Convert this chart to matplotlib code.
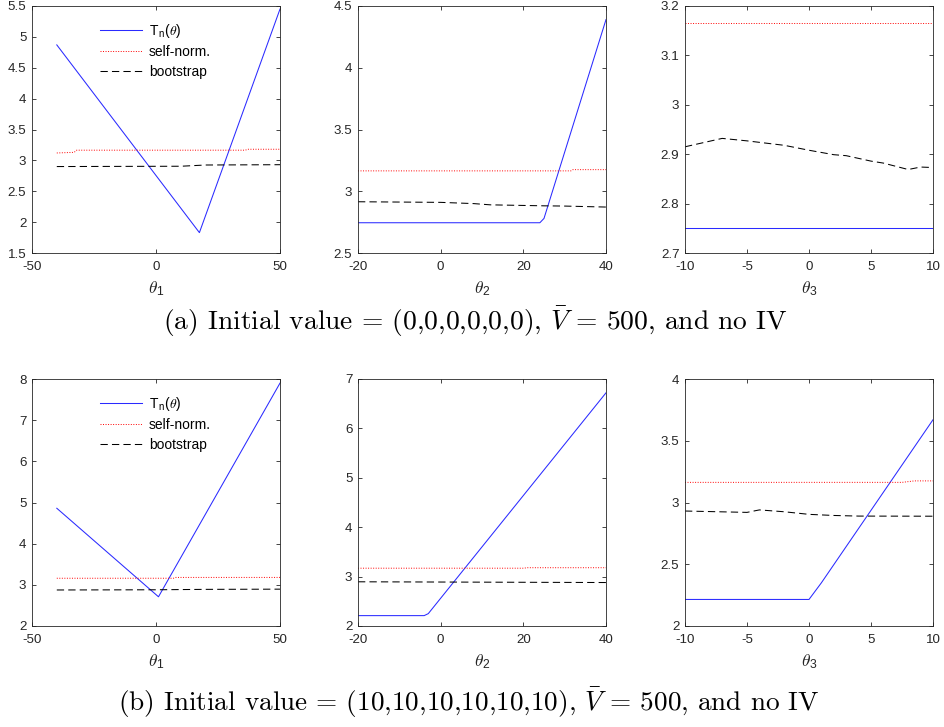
import matplotlib
matplotlib.use("Agg")
import matplotlib.pyplot as plt
from matplotlib.ticker import FuncFormatter, FixedLocator
from matplotlib.font_manager import FontProperties

plt.rcParams['font.family'] = ['Liberation Sans', 'DejaVu Sans']
plt.rcParams['axes.unicode_minus'] = False

# ---------------- data ----------------
# (a) initial value = 0
a1_x_tn = [-40, 17.5, 50]
a1_tn = [4.87, 1.83, 5.45]
a1_x_sn = [-40, -33, -32, 36, 37, 50]
a1_sn = [3.12, 3.13, 3.165, 3.165, 3.18, 3.18]
a1_x_bs = [-40, 10, 20, 50]
a1_bs = [2.90, 2.905, 2.925, 2.93]

a2_x_tn = [-20, 24, 25, 40]
a2_tn = [2.745, 2.745, 2.78, 4.39]
a2_x_sn = [-20, 31.5, 32, 40]
a2_sn = [3.165, 3.165, 3.175, 3.175]
a2_x_bs = [-20, 0, 8, 12, 25, 30, 40]
a2_bs = [2.915, 2.91, 2.90, 2.89, 2.882, 2.88, 2.872]

a3_x_tn = [-10, 10]
a3_tn = [2.75, 2.75]
a3_x_sn = [-10, 10]
a3_sn = [3.165, 3.165]
a3_x_bs = [-10, -7, -5, -2, 0, 2, 3, 5, 6, 8, 9, 10]
a3_bs = [2.915, 2.932, 2.927, 2.918, 2.908, 2.899, 2.897, 2.886, 2.882, 2.869, 2.874, 2.873]

# (b) initial value = 10
b1_x_tn = [-40, 1, 50]
b1_tn = [4.86, 2.71, 7.9]
b1_x_sn = [-40, 7, 8, 50]
b1_sn = [3.16, 3.16, 3.18, 3.18]
b1_x_bs = [-40, 0, 20, 50]
b1_bs = [2.875, 2.88, 2.89, 2.895]

b2_x_tn = [-20, -4, -3, 40]
b2_tn = [2.21, 2.21, 2.25, 6.72]
b2_x_sn = [-20, 20, 21, 40]
b2_sn = [3.17, 3.17, 3.18, 3.18]
b2_x_bs = [-20, 0, 20, 40]
b2_bs = [2.895, 2.89, 2.885, 2.88]

b3_x_tn = [-10, 0, 1, 10]
b3_tn = [2.215, 2.215, 2.35, 3.67]
b3_x_sn = [-10, 7.5, 8.5, 10]
b3_sn = [3.163, 3.163, 3.175, 3.175]
b3_x_bs = [-10, -5, -4, -2, 0, 2, 4, 10]
b3_bs = [2.931, 2.92, 2.94, 2.925, 2.904, 2.895, 2.89, 2.889]

xlims = [(-50, 50), (-20, 40), (-10, 10)]
xticks = [[-50, 0, 50], [-20, 0, 20, 40], [-10, -5, 0, 5, 10]]
ylims_a = [(1.5, 5.5), (2.5, 4.5), (2.7, 3.2)]
yticks_a = [[1.5, 2, 2.5, 3, 3.5, 4, 4.5, 5, 5.5], [2.5, 3, 3.5, 4, 4.5],
            [2.7, 2.8, 2.9, 3.0, 3.1, 3.2]]
ylims_b = [(2, 8), (2, 7), (2, 4)]
yticks_b = [[2, 3, 4, 5, 6, 7, 8], [2, 3, 4, 5, 6, 7], [2, 2.5, 3, 3.5, 4]]
xlabels = [r"$\theta_{\mathregular{1}}$", r"$\theta_{\mathregular{2}}$", r"$\theta_{\mathregular{3}}$"]
legend_labels = [r"T$_{\mathregular{n}}$($\theta$)", "self-norm.", "bootstrap"]
caption_a = r"(a) Initial value = (0,0,0,0,0,0), $\bar{V}$ = 500, and no IV"
caption_b = r"(b) Initial value = (10,10,10,10,10,10), $\bar{V}$ = 500, and no IV"

panels_a = [(a1_x_tn, a1_tn, a1_x_sn, a1_sn, a1_x_bs, a1_bs),
            (a2_x_tn, a2_tn, a2_x_sn, a2_sn, a2_x_bs, a2_bs),
            (a3_x_tn, a3_tn, a3_x_sn, a3_sn, a3_x_bs, a3_bs)]
panels_b = [(b1_x_tn, b1_tn, b1_x_sn, b1_sn, b1_x_bs, b1_bs),
            (b2_x_tn, b2_tn, b2_x_sn, b2_sn, b2_x_bs, b2_bs),
            (b3_x_tn, b3_tn, b3_x_sn, b3_sn, b3_x_bs, b3_bs)]

# ---------------- figure ----------------
W, H = 945, 727
fig = plt.figure(figsize=(W / 100, H / 100), dpi=100)

lefts = [32, 358, 685]
aw = 248
ah = 247
tops = [6, 379]

axcol = (0.15, 0.15, 0.15)
fmt = FuncFormatter(lambda v, p: f"{v:g}")


def make_ax(left, top):
    ax = fig.add_axes([left / W, 1 - (top + ah) / H, aw / W, ah / H])
    for s in ax.spines.values():
        s.set_color(axcol)
        s.set_linewidth(0.6)
    ax.tick_params(direction='in', length=3, width=0.6, color=axcol,
                   labelcolor=axcol, labelsize=9.6, top=True, right=True)
    ax.tick_params(axis='x', pad=6)
    ax.tick_params(axis='y', pad=4)
    return ax


for row, (top, panels, ylims, yticks) in enumerate(
        [(tops[0], panels_a, ylims_a, yticks_a), (tops[1], panels_b, ylims_b, yticks_b)]):
    for j in range(3):
        ax = make_ax(lefts[j], top)
        xt, tn, xs, sn, xb, bs = panels[j]
        l1, = ax.plot(xt, tn, color='#2a2aff', lw=0.75)
        l2, = ax.plot(xs, sn, color='#ff0000', lw=0.7, linestyle=(0, (1, 1.6)))
        l3, = ax.plot(xb, bs, color='black', lw=0.75, linestyle=(0, (7, 4)))
        ax.set_xlim(*xlims[j])
        ax.set_ylim(*ylims[j])
        ax.xaxis.set_major_locator(FixedLocator(xticks[j]))
        ax.yaxis.set_major_locator(FixedLocator(yticks[j]))
        ax.xaxis.set_major_formatter(fmt)
        ax.yaxis.set_major_formatter(fmt)
        ax.set_xlabel(xlabels[j], fontsize=12.5, color=axcol, labelpad=4,
                      math_fontfamily='cm')
        if j == 0:
            prop = FontProperties(family='Liberation Sans', size=10, math_fontfamily='cm')
            ax.legend([l1, l2, l3], legend_labels, loc='upper left',
                      bbox_to_anchor=(0.275, 0.937), frameon=False, prop=prop,
                      handlelength=3.0, handletextpad=0.5, labelspacing=0.4,
                      borderaxespad=0, borderpad=0)

fig.text(0.503, 1 - 322 / H, caption_a, ha='center', va='center', fontsize=19.8,
         family='cmr10', math_fontfamily='cm')
fig.text(0.496, 1 - 703 / H, caption_b, ha='center', va='center', fontsize=19.6,
         family='cmr10', math_fontfamily='cm')

fig.savefig("out.png", dpi=100)
